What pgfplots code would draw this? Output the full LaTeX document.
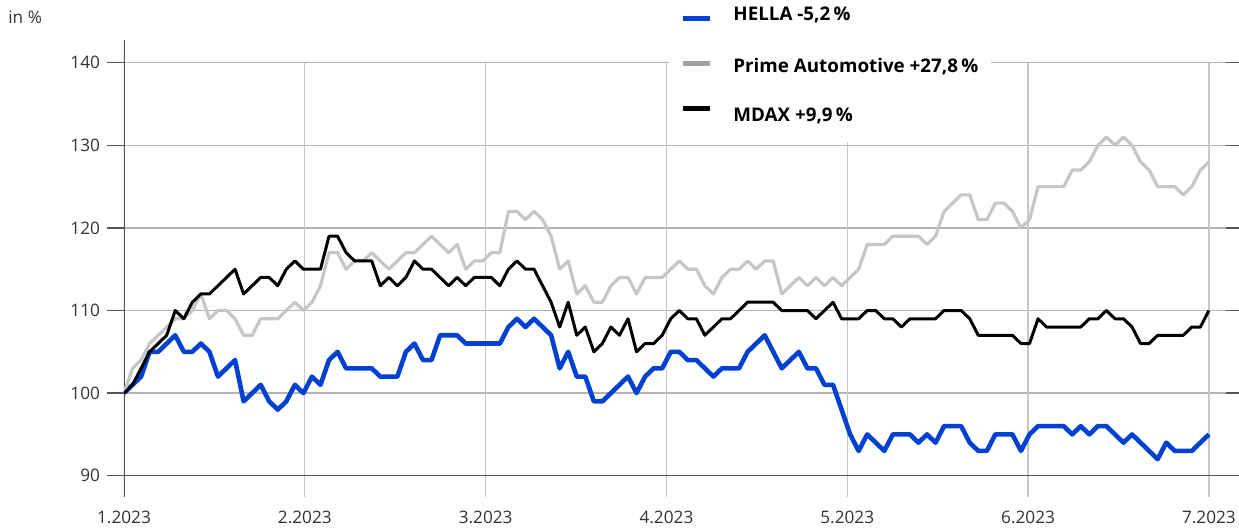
\documentclass[border=0pt]{standalone}
\usepackage{pgfplots}
\usepackage{pgfplotstable}
\pgfplotsset{compat=1.18}
\usepackage{fontspec}
\setmainfont{Open Sans}
\definecolor{hblue}{HTML}{0041D2}
\definecolor{pgray}{HTML}{C6C6C6}
\definecolor{lgray}{HTML}{A0A0A0}
\definecolor{hgrid}{HTML}{B4B4B4}
\definecolor{vgrid}{HTML}{C8C8C8}
\definecolor{axgray}{HTML}{555555}
\definecolor{txt}{HTML}{333333}

\pgfplotstableread{
i h p m
0 100 100 100
1 101 103 101
2 102 104 103
3 105 106 105
4 105 107 106
5 106 108 107
6 107 109 110
7 105 109 109
8 105 110 111
9 106 112 112
10 105 109 112
11 102 110 113
12 103 110 114
13 104 109 115
14 99 107 112
15 100 107 113
16 101 109 114
17 99 109 114
18 98 109 113
19 99 110 115
20 101 111 116
21 100 110 115
22 102 111 115
23 101 113 115
24 104 117 119
25 105 117 119
26 103 115 117
27 103 116 116
28 103 116 116
29 103 117 116
30 102 116 113
31 102 115 114
32 102 116 113
33 105 117 114
34 106 117 116
35 104 118 115
36 104 119 115
37 107 118 114
38 107 117 113
39 107 118 114
40 106 115 113
41 106 116 114
42 106 116 114
43 106 117 114
44 106 117 113
45 108 122 115
46 109 122 116
47 108 121 115
48 109 122 115
49 108 121 113
50 107 119 111
51 103 115 108
52 105 116 111
53 102 112 107
54 102 113 108
55 99 111 105
56 99 111 106
57 100 113 108
58 101 114 107
59 102 114 109
60 100 112 105
61 102 114 106
62 103 114 106
63 103 114 107
64 105 115 109
65 105 116 110
66 104 115 109
67 104 115 109
68 103 113 107
69 102 112 108
70 103 114 109
71 103 115 109
72 103 115 110
73 105 116 111
74 106 115 111
75 107 116 111
76 105 116 111
77 103 112 110
78 104 113 110
79 105 114 110
80 103 113 110
81 103 114 109
82 101 113 110
83 101 114 111
84 98 113 109
85 95 114 109
86 93 115 109
87 95 118 110
88 94 118 110
89 93 118 109
90 95 119 109
91 95 119 108
92 95 119 109
93 94 119 109
94 95 118 109
95 94 119 109
96 96 122 110
97 96 123 110
98 96 124 110
99 94 124 109
100 93 121 107
101 93 121 107
102 95 123 107
103 95 123 107
104 95 122 107
105 93 120 106
106 95 121 106
107 96 125 109
108 96 125 108
109 96 125 108
110 96 125 108
111 95 127 108
112 96 127 108
113 95 128 109
114 96 130 109
115 96 131 110
116 95 130 109
117 94 131 109
118 95 130 108
119 94 128 106
120 93 127 106
121 92 125 107
122 94 125 107
123 93 125 107
124 93 124 107
125 93 125 108
126 94 127 108
127 95 128 110
}\datatable

\begin{document}
\begin{tikzpicture}
\path[use as bounding box] (-62pt,-15pt) rectangle (557.5pt,248.5pt);
\begin{axis}[
  at={(0pt,0pt)}, anchor=south west,
  scale only axis, width=551pt, height=228.5pt,
  xmin=0, xmax=129, ymin=87.42, ymax=142.75,
  axis line style={draw=none},
  xtick={0,21.1667,42.3333,63.5,84.6667,105.8333,127},
  xticklabels={1.2023,2.2023,3.2023,4.2023,5.2023,6.2023,7.2023},
  xtick align=inside,
  major x tick style={draw=none},
  ytick={90,100,110,120,130,140},
  ytick align=outside,
  major tick length=8.5pt,
  ytick style={color=axgray, line width=0.6pt},
  ymajorgrids,
  y grid style={color=hgrid, line width=0.6pt},
  tick label style={font=\fontsize{8.6}{10}\selectfont, text=txt},
  xticklabel style={yshift=-3.7pt},
  /pgf/number format/assume math mode=true,
]
\foreach \mx in {21.1667,42.3333,63.5,84.6667,105.8333,127} {
  \edef\tmp{\noexpand\draw[vgrid, line width=0.6pt] (axis cs:\mx,87.42) -- (axis cs:\mx,140);}
  \tmp
}
\draw[axgray, line width=0.6pt] (axis cs:0,90) -- (axis cs:129,90);
\draw[axgray, line width=0.6pt] (axis cs:0,87.42) -- (axis cs:0,142.75);
\addplot[hblue, line width=2.3pt, line join=round] table[x=i, y=h] {\datatable};
\addplot[pgray, line width=1.6pt, line join=round] table[x=i, y=p] {\datatable};
\addplot[black, line width=1.5pt, line join=round] table[x=i, y=m] {\datatable};
\end{axis}
\node[anchor=west, inner sep=0pt, font=\fontsize{8.6}{10}\selectfont, text=txt] at (-58pt,240pt) {in \%};
\fill[white] (272.25pt,177.5pt) rectangle (433.5pt,250pt);
\draw[hblue, line width=2.5pt] (279.5pt,239.5pt) -- (293pt,239.5pt);
\draw[lgray, line width=2.5pt] (279.5pt,217pt) -- (293pt,217pt);
\draw[black, line width=2.5pt] (279.5pt,194.5pt) -- (293pt,194.5pt);
\begin{scope}[every node/.style={anchor=base west, inner sep=0pt, font=\bfseries\fontsize{9.4}{11}\selectfont}]
\node at (304.5pt,238.2pt) {HELLA -5,2\,\%};
\node at (304.5pt,212.2pt) {Prime Automotive +27,8\,\%};
\node at (304.5pt,187.7pt) {MDAX +9,9\,\%};
\end{scope}
\end{tikzpicture}
\end{document}
